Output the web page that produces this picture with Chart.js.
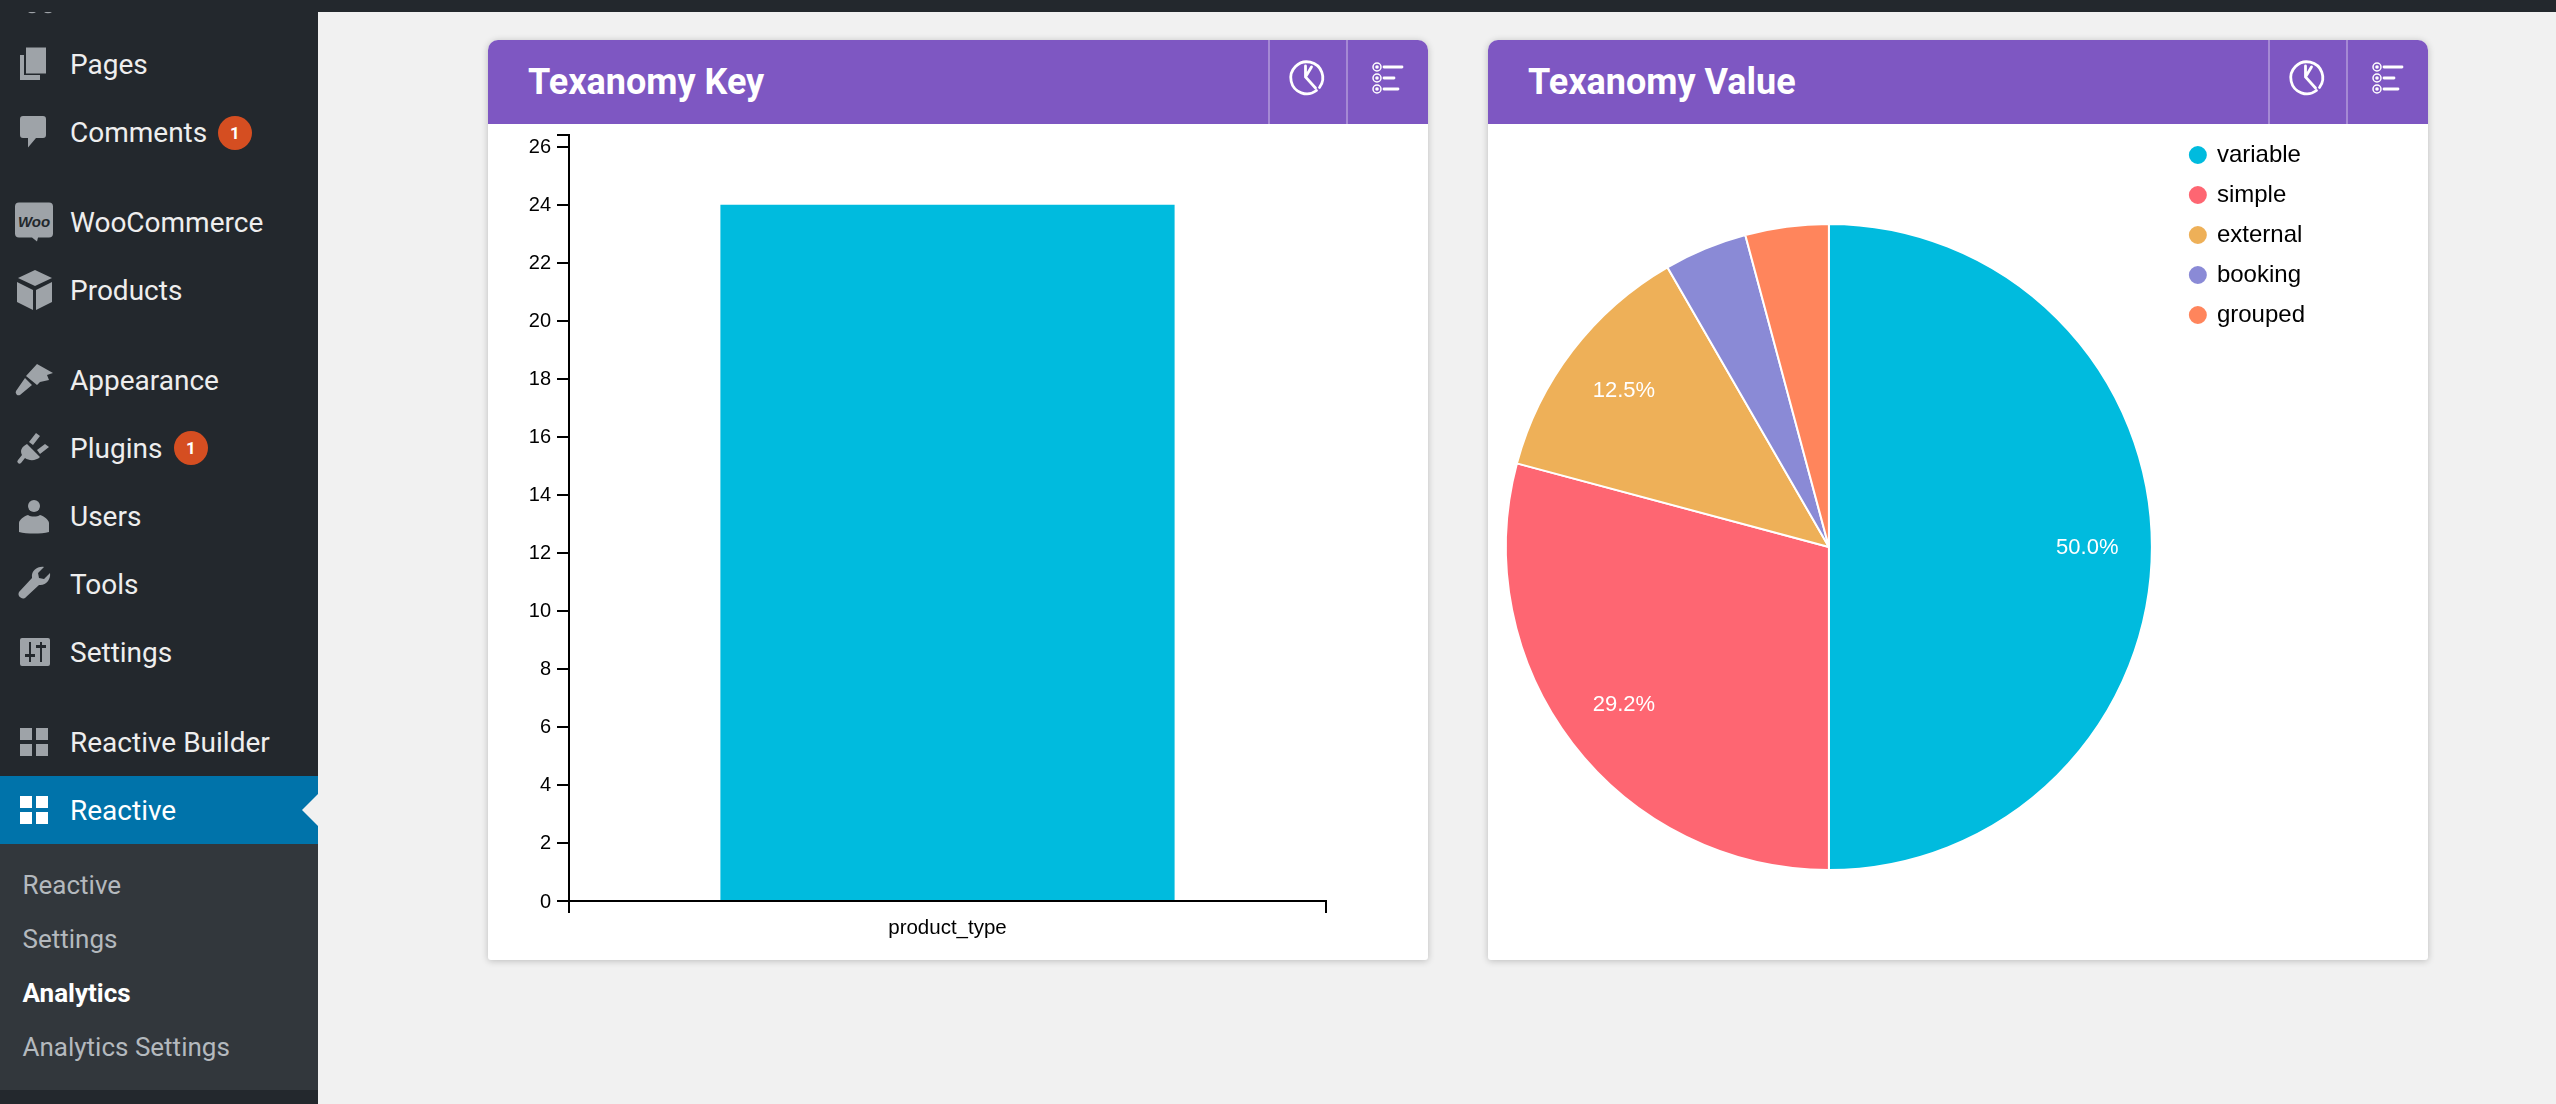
<!DOCTYPE html>
<html><head><meta charset="utf-8">
<script src="https://cdn.jsdelivr.net/npm/chart.js@4"></script>
<style>
html,body{margin:0;padding:0;width:2556px;height:1104px;overflow:hidden;background:#f1f1f1;font-family:Roboto,sans-serif}
.abs,.m,.s,.card,.head,.title,.div,canvas,svg{position:absolute}
#side{position:absolute;left:0;top:0;width:318px;height:1104px;background:#23282d}
#bar0{position:absolute;left:0;top:0;width:2556px;height:12px;background:#23282d}
#act{position:absolute;left:0;top:776px;width:318px;height:68px;background:#0073aa}
#sub{position:absolute;left:0;top:844px;width:318px;height:246px;background:#32373c}
.m{left:70px;font-size:28px;line-height:40px;height:40px;color:#eee;white-space:nowrap}
.s{left:22.5px;font-size:26px;line-height:36px;height:36px;color:#b4b9be;white-space:nowrap}
.badge{position:absolute;width:34px;height:34px;border-radius:17px;background:#d54e21;color:#fff;font-weight:700;font-size:17px;line-height:34px;text-align:center}
.card{top:40px;width:940px;height:920px;background:#fff;border-radius:10px 10px 3px 3px;box-shadow:0 1px 7px rgba(0,0,0,.22)}
.head{left:0;top:0;width:940px;height:84px;background:#7e57c2;border-radius:10px 10px 0 0}
.title{left:40px;top:20px;font-size:36px;line-height:44px;font-weight:700;color:#fff;white-space:nowrap}
.div{top:0;width:2px;height:84px;background:rgba(255,255,255,.3)}
</style></head><body>
<div id="side"></div><div id="bar0"></div><div id="act"></div><div id="sub"></div>

<svg style="left:0;top:0" width="318" height="1104" fill="#9ea3a8">
 <g fill="#9ea3a8">
 <path d="M28 12a5 3 0 0 0 8 0zM44 12a5 3 0 0 0 8 0z"/>
 <!-- pages -->
 <path d="M26 47.500h20v26H26z"/><path d="M20 55h4v20h16v5H20z"/>
 <!-- comments -->
 <path d="M23 116h20a3 3 0 0 1 3 3v16a3 3 0 0 1-3 3H36l-8 9.500v-9.500h-5a3 3 0 0 1-3-3v-16a3 3 0 0 1 3-3z"/>
 <!-- woo -->
 <path d="M19 202.500h30a4 4 0 0 1 4 4v27a4 4 0 0 1-4 4H38l-1 4-5-4H19a4 4 0 0 1-4-4v-27a4 4 0 0 1 4-4z"/>
 <!-- products -->
 <path d="M35 270l17 8-17 8-17-8zM17 282l16 8v20l-16-8zM52 282l-16 8v20l16-8z"/>
 <!-- appearance -->
 <path d="M37 364l16 9-6 2 2 5-9 2-3 3-11-9zM25 378l7 7-12 10a3 3 0 0 1-4-4z"/>
 <!-- plugins -->
 <path d="M36 433l4 3-7 9-4-3zM45 444l4 3-9 7-3-4zM27 444l13 13c-4 4-11 4-15 1l-4 5a2 2 0 0 1-3-3l4-5c-2-4-1-8 5-11z"/>
 <!-- users -->
 <circle cx="34" cy="506" r="6"/><path d="M19 532v-9c0-3 5-7 9-8 3 2 9 2 12 0 4 1 9 5 9 8v9c-8 2-22 2-30 0z"/>
 <!-- tools -->
 <path d="M50 573l-6 6-5-1-1-5 6-6c-6-1-13 3-12 11l-13 14a4.500 4.500 0 0 0 6 6l14-13c7 1 12-6 11-12z"/>
 <!-- settings -->
 <path fill-rule="evenodd" d="M22 638h26a2 2 0 0 1 2 2v24a2 2 0 0 1-2 2H22a2 2 0 0 1-2-2v-24a2 2 0 0 1 2-2zM29 642v12h-4v3h4v5h2v-5h4v-3h-4v-12zM40 642v3h-4v3h4v14h2v-14h4v-3h-4v-3z"/>
 <!-- reactive builder -->
 <path d="M20 728h12v12H20zM36 728h12v12H36zM20 744h12v12H20zM36 744h12v12H36z"/>
 </g>
 <text x="34" y="227" text-anchor="middle" font-family="Liberation Sans" font-style="italic" font-weight="700" font-size="15" fill="#23282d">Woo</text>
 <g fill="#fff"><path d="M20 796h12v12H20zM36 796h12v12H36zM20 812h12v12H20zM36 812h12v12H36z"/></g>
 <path d="M302 810l16-16v32z" fill="#f1f1f1"/>
</svg>

<div class="m" style="top:45px">Pages</div>
<div class="m" style="top:113px">Comments</div><div class="badge" style="left:218px;top:116px">1</div>
<div class="m" style="top:203px">WooCommerce</div>
<div class="m" style="top:271px">Products</div>
<div class="m" style="top:361px">Appearance</div>
<div class="m" style="top:429px">Plugins</div><div class="badge" style="left:174px;top:431px">1</div>
<div class="m" style="top:497px">Users</div>
<div class="m" style="top:565px">Tools</div>
<div class="m" style="top:633px">Settings</div>
<div class="m" style="top:723px">Reactive Builder</div>
<div class="m" style="top:791px;color:#fff">Reactive</div>
<div class="s" style="top:867px">Reactive</div>
<div class="s" style="top:921px">Settings</div>
<div class="s" style="top:975px;color:#fff;font-weight:700">Analytics</div>
<div class="s" style="top:1029px">Analytics Settings</div>

<div class="card" style="left:488px"><div class="head">
 <div class="title">Texanomy Key</div><div class="div" style="left:780px"></div><div class="div" style="left:858px"></div>
 <svg style="left:781px;top:0" width="160" height="84" fill="none" stroke="#fff" stroke-width="2.800" stroke-linecap="round">
  <path d="M47.500 50.500a16 16 0 1 1 3-3M36.500 26v11l10 11M36.500 37l6-10"/>
  <g stroke-width="1.500"><circle cx="108" cy="27" r="4"/><circle cx="108" cy="38" r="4"/><circle cx="108" cy="49" r="4"/></g>
  <g fill="#fff" stroke="none"><circle cx="108" cy="27" r="1.800"/><circle cx="108" cy="38" r="1.800"/><circle cx="108" cy="49" r="1.800"/></g>
  <path d="M115 27h18M115 38h10M115 49h14" stroke-width="2.800"/>
 </svg></div></div>
<div class="card" style="left:1488px"><div class="head">
 <div class="title">Texanomy Value</div><div class="div" style="left:780px"></div><div class="div" style="left:858px"></div>
 <svg style="left:781px;top:0" width="160" height="84" fill="none" stroke="#fff" stroke-width="2.800" stroke-linecap="round">
  <path d="M47.500 50.500a16 16 0 1 1 3-3M36.500 26v11l10 11M36.500 37l6-10"/>
  <g stroke-width="1.500"><circle cx="108" cy="27" r="4"/><circle cx="108" cy="38" r="4"/><circle cx="108" cy="49" r="4"/></g>
  <g fill="#fff" stroke="none"><circle cx="108" cy="27" r="1.800"/><circle cx="108" cy="38" r="1.800"/><circle cx="108" cy="49" r="1.800"/></g>
  <path d="M115 27h18M115 38h10M115 49h14" stroke-width="2.800"/>
 </svg></div></div>

<canvas id="barChart" width="940" height="836" style="left:488px;top:124px"></canvas>
<canvas id="pieChart" width="832" height="844" style="left:1483px;top:127px"></canvas>

<script>
const keyCategories = ['product_type'];
const keyValues = [24];
const keyAxisMax = 26.4;
const keyTickValues = [0,2,4,6,8,10,12,14,16,18,20,22,24,26];
const valueCategories = ['variable','simple','external','booking','grouped'];
const valueCounts = [12,7,3,1,1];
const palette = ['#00bbde','#fe6672','#eeb058','#8a8ad6','#ff855c'];
const FONT = '"Liberation Sans", Helvetica, Arial, sans-serif';

Chart.defaults.animation = false;
Chart.defaults.font.family = FONT;
Chart.defaults.color = '#000';

new Chart(document.getElementById('barChart'), {
  type: 'bar',
  data: { labels: keyCategories, datasets: [{ data: keyValues, backgroundColor: palette[0], barPercentage: .6, categoryPercentage: 1 }] },
  options: {
    responsive: false,
    layout: { padding: { top: 11, right: 102, left: 0, bottom: 0 } },
    plugins: { legend: { display: false }, tooltip: { enabled: false } },
    scales: {
      x: {
        afterFit(s){ s.height = 59; s.paddingLeft = 0; s.paddingRight = 0; },
        border: { color: '#000', width: 2 },
        grid: { drawOnChartArea: false, color: '#000', lineWidth: 2, tickLength: 12, offset: true },
        ticks: { font: { size: 20.5 }, color: '#000', padding: 3, maxRotation: 0 }
      },
      y: {
        min: 0, max: keyAxisMax,
        afterFit(s){ s.width = 81; s.paddingTop = 0; s.paddingBottom = 0; },
        afterBuildTicks(s){ s.ticks = keyTickValues.concat(keyAxisMax).map(v => ({ value: v })); },
        border: { color: '#000', width: 2 },
        grid: { drawOnChartArea: false, color: '#000', lineWidth: 2, tickLength: 12 },
        ticks: { font: { size: 20 }, color: '#000', padding: 6, autoSkip: false, labelOffset: 1,
          callback: v => keyTickValues.includes(v) ? String(v) : '' }
      }
    }
  }
});

const sliceLabels = {
  id: 'sliceLabels',
  afterDatasetsDraw(chart) {
    const ctx = chart.ctx, arcs = chart.getDatasetMeta(0).data;
    const total = valueCounts.reduce((a, b) => a + b, 0);
    ctx.save();
    ctx.fillStyle = '#fff'; ctx.font = '22px ' + FONT; ctx.textAlign = 'center'; ctx.textBaseline = 'middle';
    arcs.forEach((arc, i) => {
      const share = valueCounts[i] / total;
      if (share < 0.05) return;
      const mid = (arc.startAngle + arc.endAngle) / 2, r = arc.outerRadius * 0.8;
      ctx.fillText((share * 100).toFixed(1) + '%', arc.x + Math.cos(mid) * r, arc.y + Math.sin(mid) * r + 1);
    });
    ctx.restore();
  }
};

new Chart(document.getElementById('pieChart'), {
  type: 'pie',
  data: { labels: valueCategories, datasets: [{ data: valueCounts, backgroundColor: palette, borderColor: '#fff', borderWidth: 2, radius: 323 }] },
  options: {
    responsive: false,
    layout: { padding: { bottom: 4 } },
    plugins: {
      tooltip: { enabled: false },
      legend: { position: 'right', align: 'start', onClick: null,
        labels: { usePointStyle: true, pointStyle: 'circle', boxWidth: 14.14, boxHeight: 14.14, padding: 16, color: '#000', font: { size: 24 } } }
    }
  },
  plugins: [sliceLabels]
});
</script>
</body></html>
